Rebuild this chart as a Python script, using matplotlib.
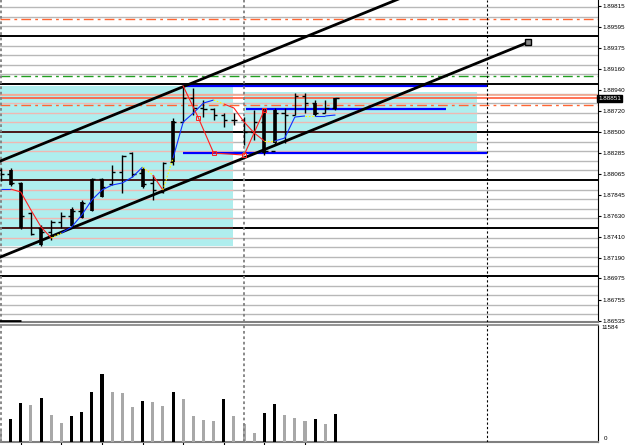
import numpy as np
import matplotlib.pyplot as plt
from matplotlib.collections import LineCollection

# price bars (one per index)
bar_open = [1.88104, 1.88062, 1.87969, 1.87656, 1.87500, 1.87458, 1.87562, 1.87625, 1.87677, 1.87760,
            1.88010, 1.87958, 1.88083, 1.88281, 1.88073, 1.87969, 1.87875, 1.88187, 1.88604, 1.88854,
            1.88750, 1.88740, 1.88677, 1.88625, 1.88625, 1.88500, 1.88600, 1.88300, 1.88700, 1.88677,
            1.88880, 1.88802, 1.88700, 1.88750]
bar_high = [1.88125, 1.88125, 1.87979, 1.87667, 1.87531, 1.87583, 1.87667, 1.87719, 1.87792, 1.88021,
            1.88021, 1.88156, 1.88260, 1.88292, 1.88135, 1.88052, 1.88187, 1.88646, 1.88979, 1.88958,
            1.88833, 1.88750, 1.88698, 1.88698, 1.88656, 1.88729, 1.88750, 1.88750, 1.88750, 1.88906,
            1.88906, 1.88833, 1.88833, 1.88854]
bar_low = [1.87990, 1.87937, 1.87489, 1.87427, 1.87312, 1.87375, 1.87500, 1.87521, 1.87604, 1.87677,
           1.87823, 1.87948, 1.87865, 1.88031, 1.87917, 1.87792, 1.87865, 1.88156, 1.88604, 1.88677,
           1.88656, 1.88625, 1.88552, 1.88573, 1.88365, 1.88417, 1.88260, 1.88365, 1.88385, 1.88677,
           1.88698, 1.88667, 1.88698, 1.88729]
bar_close = [1.88062, 1.87969, 1.87625, 1.87437, 1.87458, 1.87562, 1.87625, 1.87677, 1.87760, 1.88010,
             1.87927, 1.88083, 1.88250, 1.88062, 1.87958, 1.87896, 1.88177, 1.88604, 1.88854, 1.88750,
             1.88740, 1.88677, 1.88625, 1.88625, 1.88500, 1.88600, 1.88300, 1.88700, 1.88677, 1.88880,
             1.88802, 1.88700, 1.88750, 1.88851]
nan = np.nan
body_top = [nan, 1.88104, 1.87969, nan, 1.87500, nan, nan, 1.87698, 1.87771, 1.88010,
            1.88010, nan, nan, nan, 1.88115, nan, nan, 1.88615, nan, nan,
            nan, nan, nan, nan, nan, nan, 1.88740, 1.88729, nan, nan,
            nan, 1.88802, nan, 1.88854]
body_bot = [nan, 1.87948, 1.87500, nan, 1.87323, nan, nan, 1.87521, 1.87604, 1.87677,
            1.87823, nan, nan, nan, 1.87927, nan, nan, 1.88187, nan, nan,
            nan, nan, nan, nan, nan, nan, 1.88281, 1.88385, nan, nan,
            nan, 1.88677, nan, 1.88740]

# moving average
ma = [1.87906, 1.87906, 1.87875, 1.87687, 1.87510, 1.87396, 1.87448, 1.87510, 1.87635, 1.87792,
      1.87896, 1.87948, 1.87969, 1.88031, 1.88135, 1.88052, 1.87896, 1.88229, 1.88604, 1.88698,
      1.88802, 1.88833, 1.88792, 1.88750, 1.88604, 1.88490, 1.88406, 1.88406, 1.88437, 1.88656,
      1.88667, 1.88667, 1.88667, 1.88677]

# zigzag
zz_x = [18, 19.5, 21, 24, 26]
zz_y = [1.88979, 1.88646, 1.88281, 1.88260, 1.88729]

volume = [1108, 2317, 3960, 3760, 4432, 2720, 1980, 2620, 3020, 5040,
          6950, 5040, 4970, 3560, 4130, 4030, 3630, 5040, 4400, 2620,
          2220, 2180, 4400, 2680, 1810, 940, 2920, 3830, 2720, 2490,
          2115, 2290, 1810, 2890]

# levels / objects
orange_levels = [1.89677, 1.88781]
green_level = 1.89083
ask_level = 1.88885
bid_level = 1.88851
channel_x = [-2, 52]
channel_low = [1.87112, 1.89435]
channel_width = 0.0100
boxes = [(-0.1, 22.9, 1.87312, 1.88979), (24.0, 46.95, 1.88281, 1.88917)]
blue_lines = [(18.0, 47.93, 1.88979), (18.0, 47.93, 1.88281), (24.2, 43.9, 1.88740)]
vlines_dotted = [0.0, 24.0]
vline_black = 47.93
price_ticks = [1.89815, 1.89595, 1.89375, 1.89160, 1.88940, 1.88720, 1.88500, 1.88285,
               1.88065, 1.87845, 1.87630, 1.87410, 1.87190, 1.86975, 1.86755, 1.86535]
time_ticks = [2, 6, 10, 14, 18, 22, 26, 30]
vol_max = 11584

plt.rcParams['font.family'] = ['Liberation Sans', 'DejaVu Sans']
fig = plt.figure(figsize=(6.25, 4.45), dpi=100)
ax = fig.add_axes([0, 0.2764, 0.9568, 0.7236])
axv = fig.add_axes([0, 0.0067, 0.9568, 0.263])
xlim = (-0.05, 58.87)
ax.set_xlim(*xlim)
ax.set_ylim(1.86521, 1.89875)

idx = np.arange(len(bar_open))

# grid
levels = np.round(np.arange(1.866, 1.8985, 0.001), 3)
for lv in levels:
    major = abs(lv * 1000 % 5) < 1e-6 or abs(lv * 1000 % 5 - 5) < 1e-6
    ax.axhline(lv, color='black' if major else '#b8b8b8', lw=1.4 if major else 1.0, zorder=1)
    for x0, x1, y0, y1 in boxes:
        if y0 < lv < y1:
            ax.hlines(lv, x0, x1, color='#4a1818' if major else '#f0b8b2',
                      lw=1.4 if major else 1.0, zorder=3)

for x0, x1, y0, y1 in boxes:
    ax.add_patch(plt.Rectangle((x0, y0), x1 - x0, y1 - y0, color='#afeeee', lw=0, zorder=2))

for lv in orange_levels:
    ax.axhline(lv, color='#ff6633', lw=1.0, dashes=(7, 3, 2, 3), zorder=4)
ax.axhline(green_level, color='#22a022', lw=1.0, dashes=(7, 3, 2, 3), zorder=4)
ax.axhline(ask_level, color='#f4a890', lw=1.2, zorder=4)
ax.axhline(bid_level, color='#ff5a3a', lw=1.2, zorder=4)

for x0, x1, y in blue_lines:
    ax.hlines(y, x0, x1, color='#0000ff', lw=1.6, zorder=4)

for xv in vlines_dotted:
    for a in (ax, axv):
        a.axvline(xv, color='#808080', lw=1.3, ls=(0, (1.5, 1.5)), zorder=4)
for a in (ax, axv):
    a.axvline(vline_black, color='black', lw=0.8, ls=(0, (2, 2)), zorder=4)

# channel
cl = np.array(channel_low)
slope = (cl[1] - cl[0]) / (channel_x[1] - channel_x[0])
ax.plot(channel_x, cl, color='black', lw=2, zorder=5)
ax.plot([channel_x[0], channel_x[1] + 10],
        [cl[0] + channel_width, cl[1] + channel_width + slope * 10],
        color='black', lw=2, zorder=5)
ax.plot(channel_x[1], cl[1], marker='s', ms=4, mfc='#888888', mec='black', zorder=6)
ax.hlines(1.86531, -0.1, 2.0, color='black', lw=2, zorder=5)

# bars
ax.vlines(idx, bar_low, bar_high, color='black', lw=1.0, zorder=6)
ax.hlines(bar_open, idx - 0.32, idx, color='black', lw=1.0, zorder=6)
ax.hlines(bar_close, idx, idx + 0.32, color='black', lw=1.0, zorder=6)
ax.vlines(idx, body_bot, body_top, color='black', lw=2.6, zorder=6)

# colored moving average
ma = np.array(ma)
segs, cols, styles = [], [], []
prev = 0
for i in range(len(ma) - 1):
    d = np.sign(ma[i + 1] - ma[i])
    segs.append([(idx[i], ma[i]), (idx[i + 1], ma[i + 1])])
    if prev != 0 and d != prev:
        cols.append('#ffff00')
        styles.append((0, (1.5, 1.5)))
    else:
        cols.append('#1030ff' if d >= 0 else '#ff2020')
        styles.append('solid')
    prev = d
ax.add_collection(LineCollection(segs, colors=cols, linestyles=styles, linewidths=0.8, zorder=7))

ax.plot(zz_x, zz_y, color='#ff2020', lw=0.8, zorder=7)
ax.plot(zz_x[1:], zz_y[1:], ls='none', marker='s', ms=3, mfc='none', mec='#ff2020', mew=0.7, zorder=7)

# axes styling
for a in (ax, axv):
    a.spines['left'].set_visible(False)
    a.spines['right'].set_color('black')
    a.spines['bottom'].set_color('#808080')
    a.spines['bottom'].set_linewidth(1.5)
ax.spines['top'].set_visible(False)
axv.spines['top'].set_color('#808080')
axv.spines['top'].set_linewidth(1.2)
ax.set_xticks([])
ax.yaxis.tick_right()
ax.set_yticks(price_ticks)
ax.set_yticklabels(['%.5f' % p for p in price_ticks])
ax.tick_params(axis='y', length=2.5, width=0.8, pad=1.0, labelsize=4.5, colors='black')
ax.text(1.0, bid_level, '%.5f' % bid_level, transform=ax.get_yaxis_transform(),
        ha='left', va='center', fontsize=4.5, color='white',
        bbox=dict(boxstyle='square,pad=0.2', fc='black', ec='black'), clip_on=False, zorder=10)

# volume
vol = np.array(volume)
vcol = ['#a8a8a8'] + ['black' if vol[i] > vol[i - 1] else '#a8a8a8' for i in range(1, len(vol))]
axv.bar(idx, vol, width=0.3, color=vcol, zorder=3)
axv.set_xlim(*xlim)
axv.set_ylim(0, vol_max * 117 / 114)
axv.set_yticks([])
axv.set_xticks(time_ticks)
axv.set_xticklabels([])
axv.tick_params(axis='x', length=2, width=0.8, colors='black')
axv.text(1.005, vol_max, str(vol_max), transform=axv.get_yaxis_transform(), ha='left', va='center', fontsize=4.5)
axv.text(1.01, 400, '0', transform=axv.get_yaxis_transform(), ha='left', va='center', fontsize=4.5)

fig.savefig('out.png', dpi=100)
